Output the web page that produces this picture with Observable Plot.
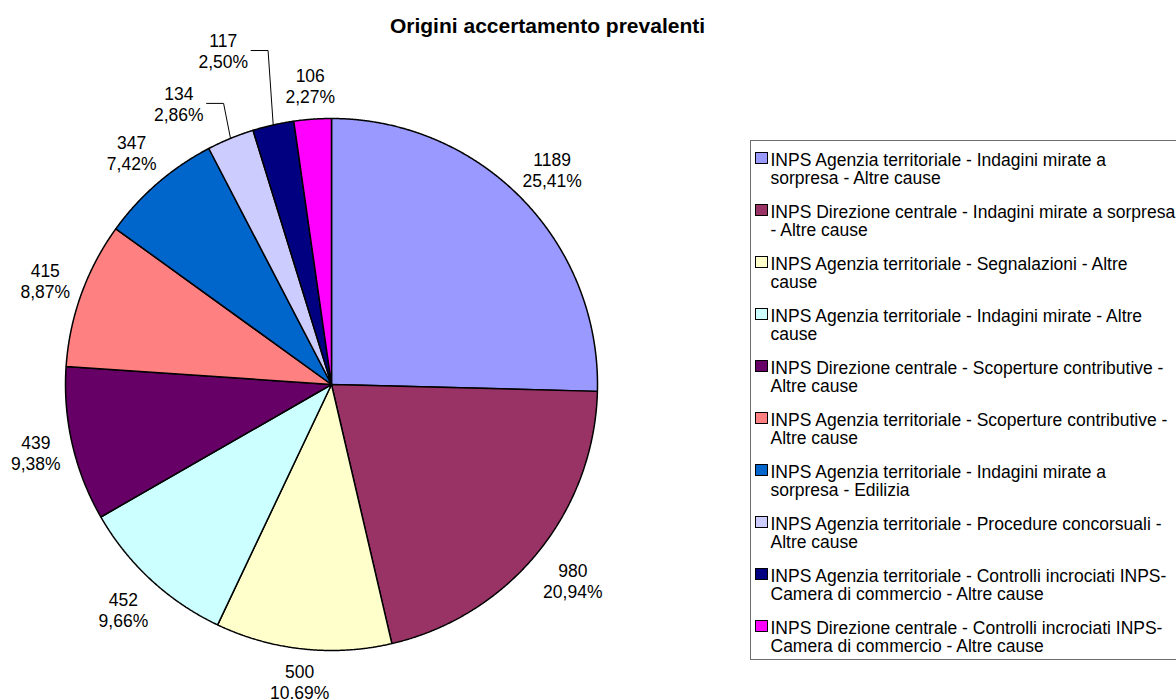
<!DOCTYPE html>
<html>
<head>
<meta charset="utf-8">
<script src="https://cdn.jsdelivr.net/npm/d3@7"></script>
<script src="https://cdn.jsdelivr.net/npm/@observablehq/plot@0.6"></script>
<style>
  html, body { margin: 0; padding: 0; background: #fff; }
  svg { display: block; }
</style>
</head>
<body>
<div id="chart"></div>
<script>
// ---------- data ----------
const title = "Origini accertamento prevalenti";
const categories = [
  "INPS Agenzia territoriale - Indagini mirate a\nsorpresa - Altre cause",
  "INPS Direzione centrale - Indagini mirate a sorpresa\n- Altre cause",
  "INPS Agenzia territoriale - Segnalazioni - Altre\ncause",
  "INPS Agenzia territoriale - Indagini mirate - Altre\ncause",
  "INPS Direzione centrale - Scoperture contributive -\nAltre cause",
  "INPS Agenzia territoriale - Scoperture contributive -\nAltre cause",
  "INPS Agenzia territoriale - Indagini mirate a\nsorpresa - Edilizia",
  "INPS Agenzia territoriale - Procedure concorsuali -\nAltre cause",
  "INPS Agenzia territoriale - Controlli incrociati INPS-\nCamera di commercio - Altre cause",
  "INPS Direzione centrale - Controlli incrociati INPS-\nCamera di commercio - Altre cause"
];
const values = [1189, 980, 500, 452, 439, 415, 347, 134, 117, 106];
const colors = ["#9999FF", "#993366", "#FFFFCC", "#CCFFFF", "#660066",
                "#FF8080", "#0066CC", "#CCCCFF", "#000080", "#FF00FF"];

// ---------- layout ----------
const W = 1176, H = 699;
const FONT = '"Liberation Sans", Arial, Helvetica, sans-serif';
const pie = { cx: 331, cy: 384, r: 266 };
const labelSize = 17.5, labelLH = 21, labelGap = 12;
const labelPush = [0, 0, 0, 0, 0, 0, 0, 18, 51, 0];        // extra radial offset (px) for moved labels
const labelTurn = [0, 0, 0, 0, 0, 0, 0, -6.2, -5.3, 0];    // angular shift (deg) for moved labels
const leaderFor = [false, false, false, false, false, false, false, true, true, false];
const legend = { x: 750, top: 140, bottom: 659, right: 1190, first: 152, step: 52,
                 sw: 12, sx: 755, textX: 770, size: 17.5, lh: 19 };
const titlePos = { x: 547, y: 26, size: 21 };

// ---------- derived geometry ----------
const total = d3.sum(values);
const pct = v => (v / total * 100).toFixed(2).replace(".", ",") + "%";
const arcs = d3.pie().sort(null).value(d => d)(values);
const pt = (a, rad) => ({ x: pie.cx + rad * Math.sin(a), y: pie.cy - rad * Math.cos(a) });

const slicePts = [];
arcs.forEach((a, i) => {
  const key = categories[i];
  slicePts.push({ key, ...pt(0, 0) });
  const n = Math.max(2, Math.ceil((a.endAngle - a.startAngle) / 0.004));
  for (let k = 0; k <= n; k++) {
    const t = a.startAngle + (a.endAngle - a.startAngle) * k / n;
    slicePts.push({ key, ...pt(t, pie.r) });
  }
});

const ctx = document.createElement("canvas").getContext("2d");
ctx.font = `${labelSize}px ${FONT}`;
const measure = s => ctx.measureText(s).width;

const labels = [];
const leaderPts = [];
arcs.forEach((a, i) => {
  const mid0 = (a.startAngle + a.endAngle) / 2;
  const mid = mid0 + labelTurn[i] * Math.PI / 180;
  const dx = Math.sin(mid), dy = -Math.cos(mid);
  const l1 = String(values[i]), l2 = pct(values[i]);
  const w = Math.max(measure(l1), measure(l2)) / 2;
  const h = labelLH;
  const ext = Math.min(Math.abs(dx) > 1e-6 ? w / Math.abs(dx) : Infinity,
                       Math.abs(dy) > 1e-6 ? h / Math.abs(dy) : Infinity);
  const dist = pie.r + labelGap + ext + labelPush[i];
  const lx = pie.cx + dx * dist, ly = pie.cy + dy * dist;
  labels.push({ x: lx, y: ly, text: l1 + "\n" + l2 });
  if (leaderFor[i]) {
    const key = "L" + i;
    const edge = pt(mid0, pie.r);
    leaderPts.push({ key, x: lx + w + 3, y: ly });
    leaderPts.push({ key, x: lx + w + 20, y: ly });
    leaderPts.push({ key, x: edge.x, y: edge.y });
  }
});

const legendRows = categories.map((c, i) => ({
  key: c,
  y: legend.first + legend.step * i
}));

// ---------- chart ----------
const chart = Plot.plot({
  width: W,
  height: H,
  margin: 0,
  x: { domain: [0, W], range: [0, W], axis: null },
  y: { domain: [0, H], range: [0, H], axis: null },
  color: { type: "ordinal", domain: categories, range: colors },
  style: { fontFamily: FONT, background: "white", color: "black" },
  marks: [
    // pie slices
    Plot.line(slicePts, {
      x: "x", y: "y", z: "key", fill: "key",
      stroke: "black", strokeWidth: 1.5, curve: "linear-closed",
      strokeLinejoin: "miter", strokeLinecap: "butt"
    }),
    // leader lines
    Plot.line(leaderPts, { x: "x", y: "y", z: "key", stroke: "black", strokeWidth: 1, strokeLinejoin: "miter" }),
    // data labels
    Plot.text(labels, {
      x: "x", y: "y", text: "text", fill: "black",
      fontSize: labelSize, lineHeight: labelLH / labelSize, textAnchor: "middle"
    }),
    // title
    Plot.text([title], {
      x: titlePos.x, y: titlePos.y, text: d => d, fill: "black",
      fontSize: titlePos.size, fontWeight: "bold", textAnchor: "middle"
    }),
    // legend box
    Plot.rect([0], {
      x1: legend.x + 0.5, x2: legend.right, y1: legend.top + 0.5, y2: legend.bottom + 0.5,
      fill: "white", stroke: "#6e6e6e", strokeWidth: 1
    }),
    // legend swatches
    Plot.rect(legendRows, {
      x1: legend.sx + 0.5, x2: legend.sx + legend.sw + 0.5,
      y1: d => d.y + 0.5, y2: d => d.y + legend.sw - 0.5,
      fill: "key", stroke: "black", strokeWidth: 1
    }),
    // legend labels
    Plot.text(legendRows, {
      x: legend.textX, y: d => d.y - 0.5, text: "key", fill: "black",
      fontSize: legend.size, textAnchor: "start", lineAnchor: "top",
      lineHeight: legend.lh / legend.size
    })
  ]
});

document.getElementById("chart").appendChild(chart);
</script>
</body>
</html>
